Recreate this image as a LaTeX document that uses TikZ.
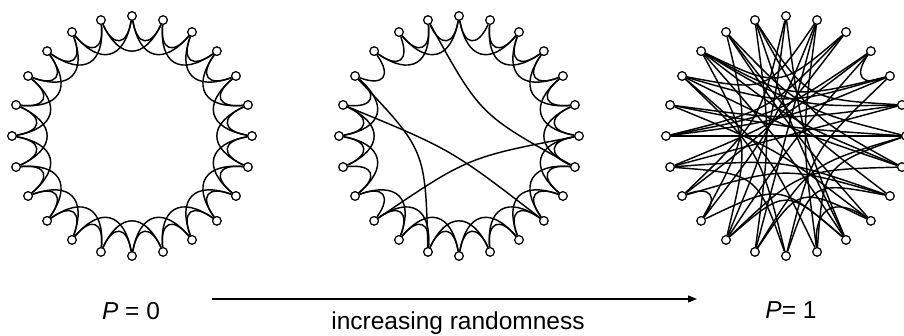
\documentclass[tikz,border=0pt]{standalone}
\usepackage{fontspec}
\setmainfont{Liberation Sans}
\usetikzlibrary{arrows.meta}
\tikzset{
  vert/.style={circle,draw=black,fill=white,line width=1.1pt,minimum size=8.5pt,inner sep=0pt},
  edge/.style={draw=black,line width=1.45pt},
  lbl/.style={font=\fontsize{24.5}{28}\selectfont,inner sep=0pt,anchor=base},
}
% long edge from vertex #2 to vertex #3 of graph #1, bent toward the centre
\newcommand\wsedge[3]{%
  \pgfmathsetmacro\angM{90-7.5*(#2+#3)}%
  \pgfmathsetmacro\radM{0.5*120*cos(7.5*(#2-#3))}%
  \pgfmathsetmacro\ctlX{\radM*cos(\angM)}%
  \pgfmathsetmacro\ctlY{\radM*sin(\angM)}%
  \draw[edge] (#1#2) .. controls ([shift={(\ctlX,\ctlY)}]#1c) .. (#1#3);%
}
% short (lattice) edge: U-shaped dip toward the centre
% #4 = fraction along the chord, #5 = inward depth of the controls
\newcommand\latedge[5]{%
  \pgfmathsetmacro\angA{90-15*#2}%
  \pgfmathsetmacro\angB{90-15*#3}%
  \pgfmathsetmacro\Ax{120*cos(\angA)}%
  \pgfmathsetmacro\Ay{120*sin(\angA)}%
  \pgfmathsetmacro\Bx{120*cos(\angB)}%
  \pgfmathsetmacro\By{120*sin(\angB)}%
  \pgfmathsetmacro\Mx{(\Ax+\Bx)/2}%
  \pgfmathsetmacro\My{(\Ay+\By)/2}%
  \pgfmathsetmacro\Mn{veclen(\Mx,\My)}%
  \pgfmathsetmacro\Nx{-\Mx/\Mn}%
  \pgfmathsetmacro\Ny{-\My/\Mn}%
  \pgfmathsetmacro\Px{\Ax+#4*(\Bx-\Ax)+#5*\Nx}%
  \pgfmathsetmacro\Py{\Ay+#4*(\By-\Ay)+#5*\Ny}%
  \pgfmathsetmacro\Qx{\Bx-#4*(\Bx-\Ax)+#5*\Nx}%
  \pgfmathsetmacro\Qy{\By-#4*(\By-\Ay)+#5*\Ny}%
  \draw[edge] (#1#2) .. controls ([shift={(\Px,\Py)}]#1c) and ([shift={(\Qx,\Qy)}]#1c) .. (#1#3);%
}
\begin{document}
\begin{tikzpicture}[x=1pt,y=1pt]
\useasboundingbox (0,0) rectangle (904,336);
\clip (0,0) rectangle (904,336);
\coordinate (ac) at (132,200);
\coordinate (bc) at (459,200);
\coordinate (cc) at (786,200);
% vertices
\foreach \g in {a,b,c}{
  \foreach \i in {0,...,23}{
    \pgfmathsetmacro\ang{90-15*\i}
    \path ([shift={(\ang:120)}]\g c) node[vert] (\g\i) {};
  }
}
% graph 1: regular ring lattice
\foreach \i in {0,...,23}{
  \pgfmathtruncatemacro\j{mod(\i+1,24)}
  \pgfmathtruncatemacro\k{mod(\i+2,24)}
  \latedge{a}{\i}{\j}{0.28}{29}
  \latedge{a}{\i}{\k}{0.3}{40}
}
% graph 2: a few rewired edges
\foreach \i in {0,...,23}{
  \pgfmathtruncatemacro\j{mod(\i+1,24)}
  \latedge{b}{\i}{\j}{0.28}{29}
}
\foreach \i in {0,...,14,16,17,18,21,22}{
  \pgfmathtruncatemacro\k{mod(\i+2,24)}
  \latedge{b}{\i}{\k}{0.3}{40}
}
\foreach \i/\j in {23/7,20/13,19/9,15/6}{
  \wsedge{b}{\i}{\j}
}
% graph 3: random graph
\foreach \i/\j in {18/6,20/4,21/4,19/5,18/4,18/3,17/5,17/8,16/2,15/1,15/22,
  14/21,14/3,13/23,13/6,12/17,12/20,11/1,10/23,10/21,9/22,9/19,8/22,
  8/16,7/23,7/14,6/22,5/21,2/21,1/13,0/14,6/11,19/6,20/7,10/15,12/8,13/9,
  14/10,17/3,18/2,23/5,21/7,20/1,0/16,11/20,0/10,12/4}{
  \wsedge{c}{\i}{\j}
}
\foreach \i/\j in {15/16,3/4}{
  \latedge{c}{\i}{\j}{0.28}{29}
}
\latedge{c}{9}{11}{0.3}{40}
% redraw vertices on top
\foreach \g in {a,b,c}{
  \foreach \i in {0,...,23}{
    \path (\g\i) node[vert] {};
  }
}
% labels and arrow
\coordinate (arrS) at (212,37);
\coordinate (arrE) at (697,37);
\draw[line width=1.3pt,-{Triangle[length=9pt,width=7pt]}] (arrS) -- (arrE);
\node[lbl] (p0) at (131,16) {\textit{P} = 0};
\node[lbl] (p1) at (791,17) {\textit{P}= 1};
\node[lbl] (inc) at (458,6) {increasing randomness};
\end{tikzpicture}
\end{document}
